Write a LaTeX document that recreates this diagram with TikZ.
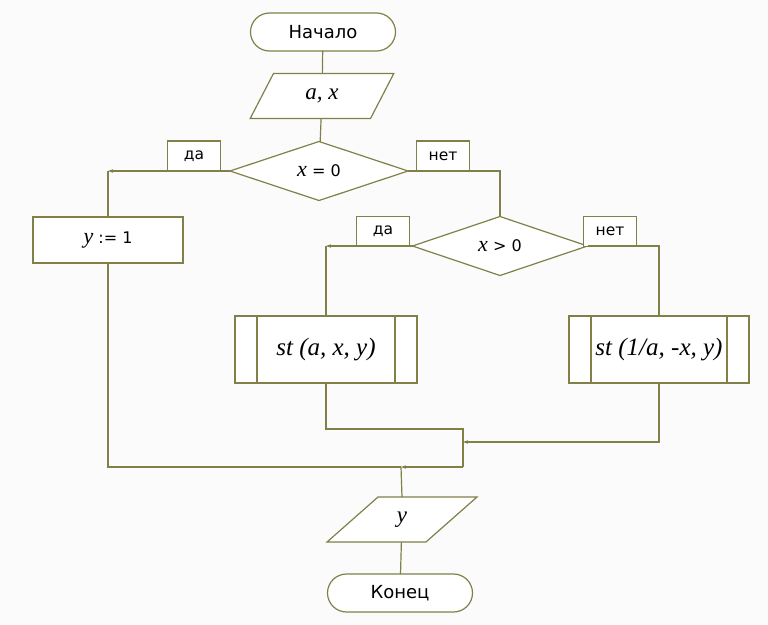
\documentclass[tikz,border=0pt]{standalone}
\usepackage{fontspec}
\setmainfont{DejaVu Sans}
\newfontfamily\vserif{Liberation Serif}
\usetikzlibrary{shapes.geometric,arrows.meta}
\definecolor{lc}{RGB}{128,128,72}
\definecolor{bgc}{RGB}{251,251,251}
\newcommand{\vi}[2][22]{{\fontsize{#1}{#1}\vserif\itshape #2}}
\newcommand{\sz}[1]{\fontsize{#1}{#1}\selectfont}
\begin{document}
\begin{tikzpicture}[x=1pt,y=-1pt,
  every node/.style={draw=lc,line width=1.2pt,fill=white,inner sep=0pt,outer sep=0pt,font=\sz{18}},
  term/.style={rectangle,rounded corners=19pt,minimum width=145pt,minimum height=38pt},
  io/.style={trapezium,trapezium stretches=true,trapezium left angle=#1,trapezium right angle=180-#1,minimum width=144pt,minimum height=45pt},
  dec/.style={diamond,minimum width=178pt,minimum height=59pt},
  proc/.style={rectangle,minimum width=150pt,minimum height=46pt},
  sub/.style={rectangle,minimum width=182pt,minimum height=67pt},
  lab/.style={rectangle,minimum width=53pt,minimum height=30pt,font=\sz{15.5}},
  conn/.style={draw=lc,line width=1.2pt},
  arr/.style={conn,-{Stealth[length=5pt,width=3.5pt]}}]
\fill[bgc] (0,0) rectangle (768,624);
\useasboundingbox (0,0) rectangle (768,624);

\node[term] (start) at (323,32) {Начало};
\node[io=61] (in1) at (322,96) {\vi[23]{a, x}};
\node[dec] (d1) at (319,171) {\vi{x}\sz{16}\ = 0};
\node[lab] (d1y) at (194,156) {да};
\node[lab] (d1n) at (443,156) {нет};
\node[proc] (y1) at (108,240) {\vi{y}\sz{16}\ := 1};
\node[dec,minimum width=175pt] (d2) at (500,246) {\vi{x}\sz{16}\ > 0};
\node[lab] (d2y) at (383,231.5) {да};
\node[lab] (d2n) at (610,231.5) {нет};
\node[sub] (st1) at (326,349.5) {\vi[25]{st (a, x, y)}};
\node[sub,minimum width=180pt] (st2) at (659,349.5) {\vi[25]{st (1/a, -x, y)}};
\draw[conn] ([xshift=22pt]st1.north west) -- ([xshift=22pt]st1.south west);
\draw[conn] ([xshift=-22pt]st1.north east) -- ([xshift=-22pt]st1.south east);
\draw[conn] ([xshift=22pt]st2.north west) -- ([xshift=22pt]st2.south west);
\draw[conn] ([xshift=-22pt]st2.north east) -- ([xshift=-22pt]st2.south east);
\node[io=55,minimum width=150pt] (out) at (402,519.5) {\vi[23]{y}};
\node[term] (end) at (400,593) {Конец};

\coordinate (c1) at (108,171);
\coordinate (c2) at (500,171);
\coordinate (c3) at (326,246);
\coordinate (c4) at (659,246);
\coordinate (m0) at (463,429);
\coordinate (m1) at (463,442);
\coordinate (m2) at (463,467);
\coordinate (m3) at (401,467);

\draw[conn] (start) -- (in1);
\draw[conn] (in1) -- (d1);
\draw[arr] (d1.west) -- (c1);
\draw[conn] (c1) -- (y1.north);
\draw[conn] (d1.east) -- (c2) -- (d2.north);
\draw[arr] (d2.west) -- (c3);
\draw[conn] (c3) -- (st1.north);
\draw[conn] (d2.east) -- (c4) -- (st2.north);
\draw[arr] (st2.south) |- (m1);
\draw[conn] (st1.south) |- (m0) -- (m2);
\draw[arr] (m2) -- (m3);
\draw[conn] (y1.south) |- (m3);
\draw[conn] (m3) -- (out.north);
\draw[conn] (out) -- (end);
\end{tikzpicture}
\end{document}
